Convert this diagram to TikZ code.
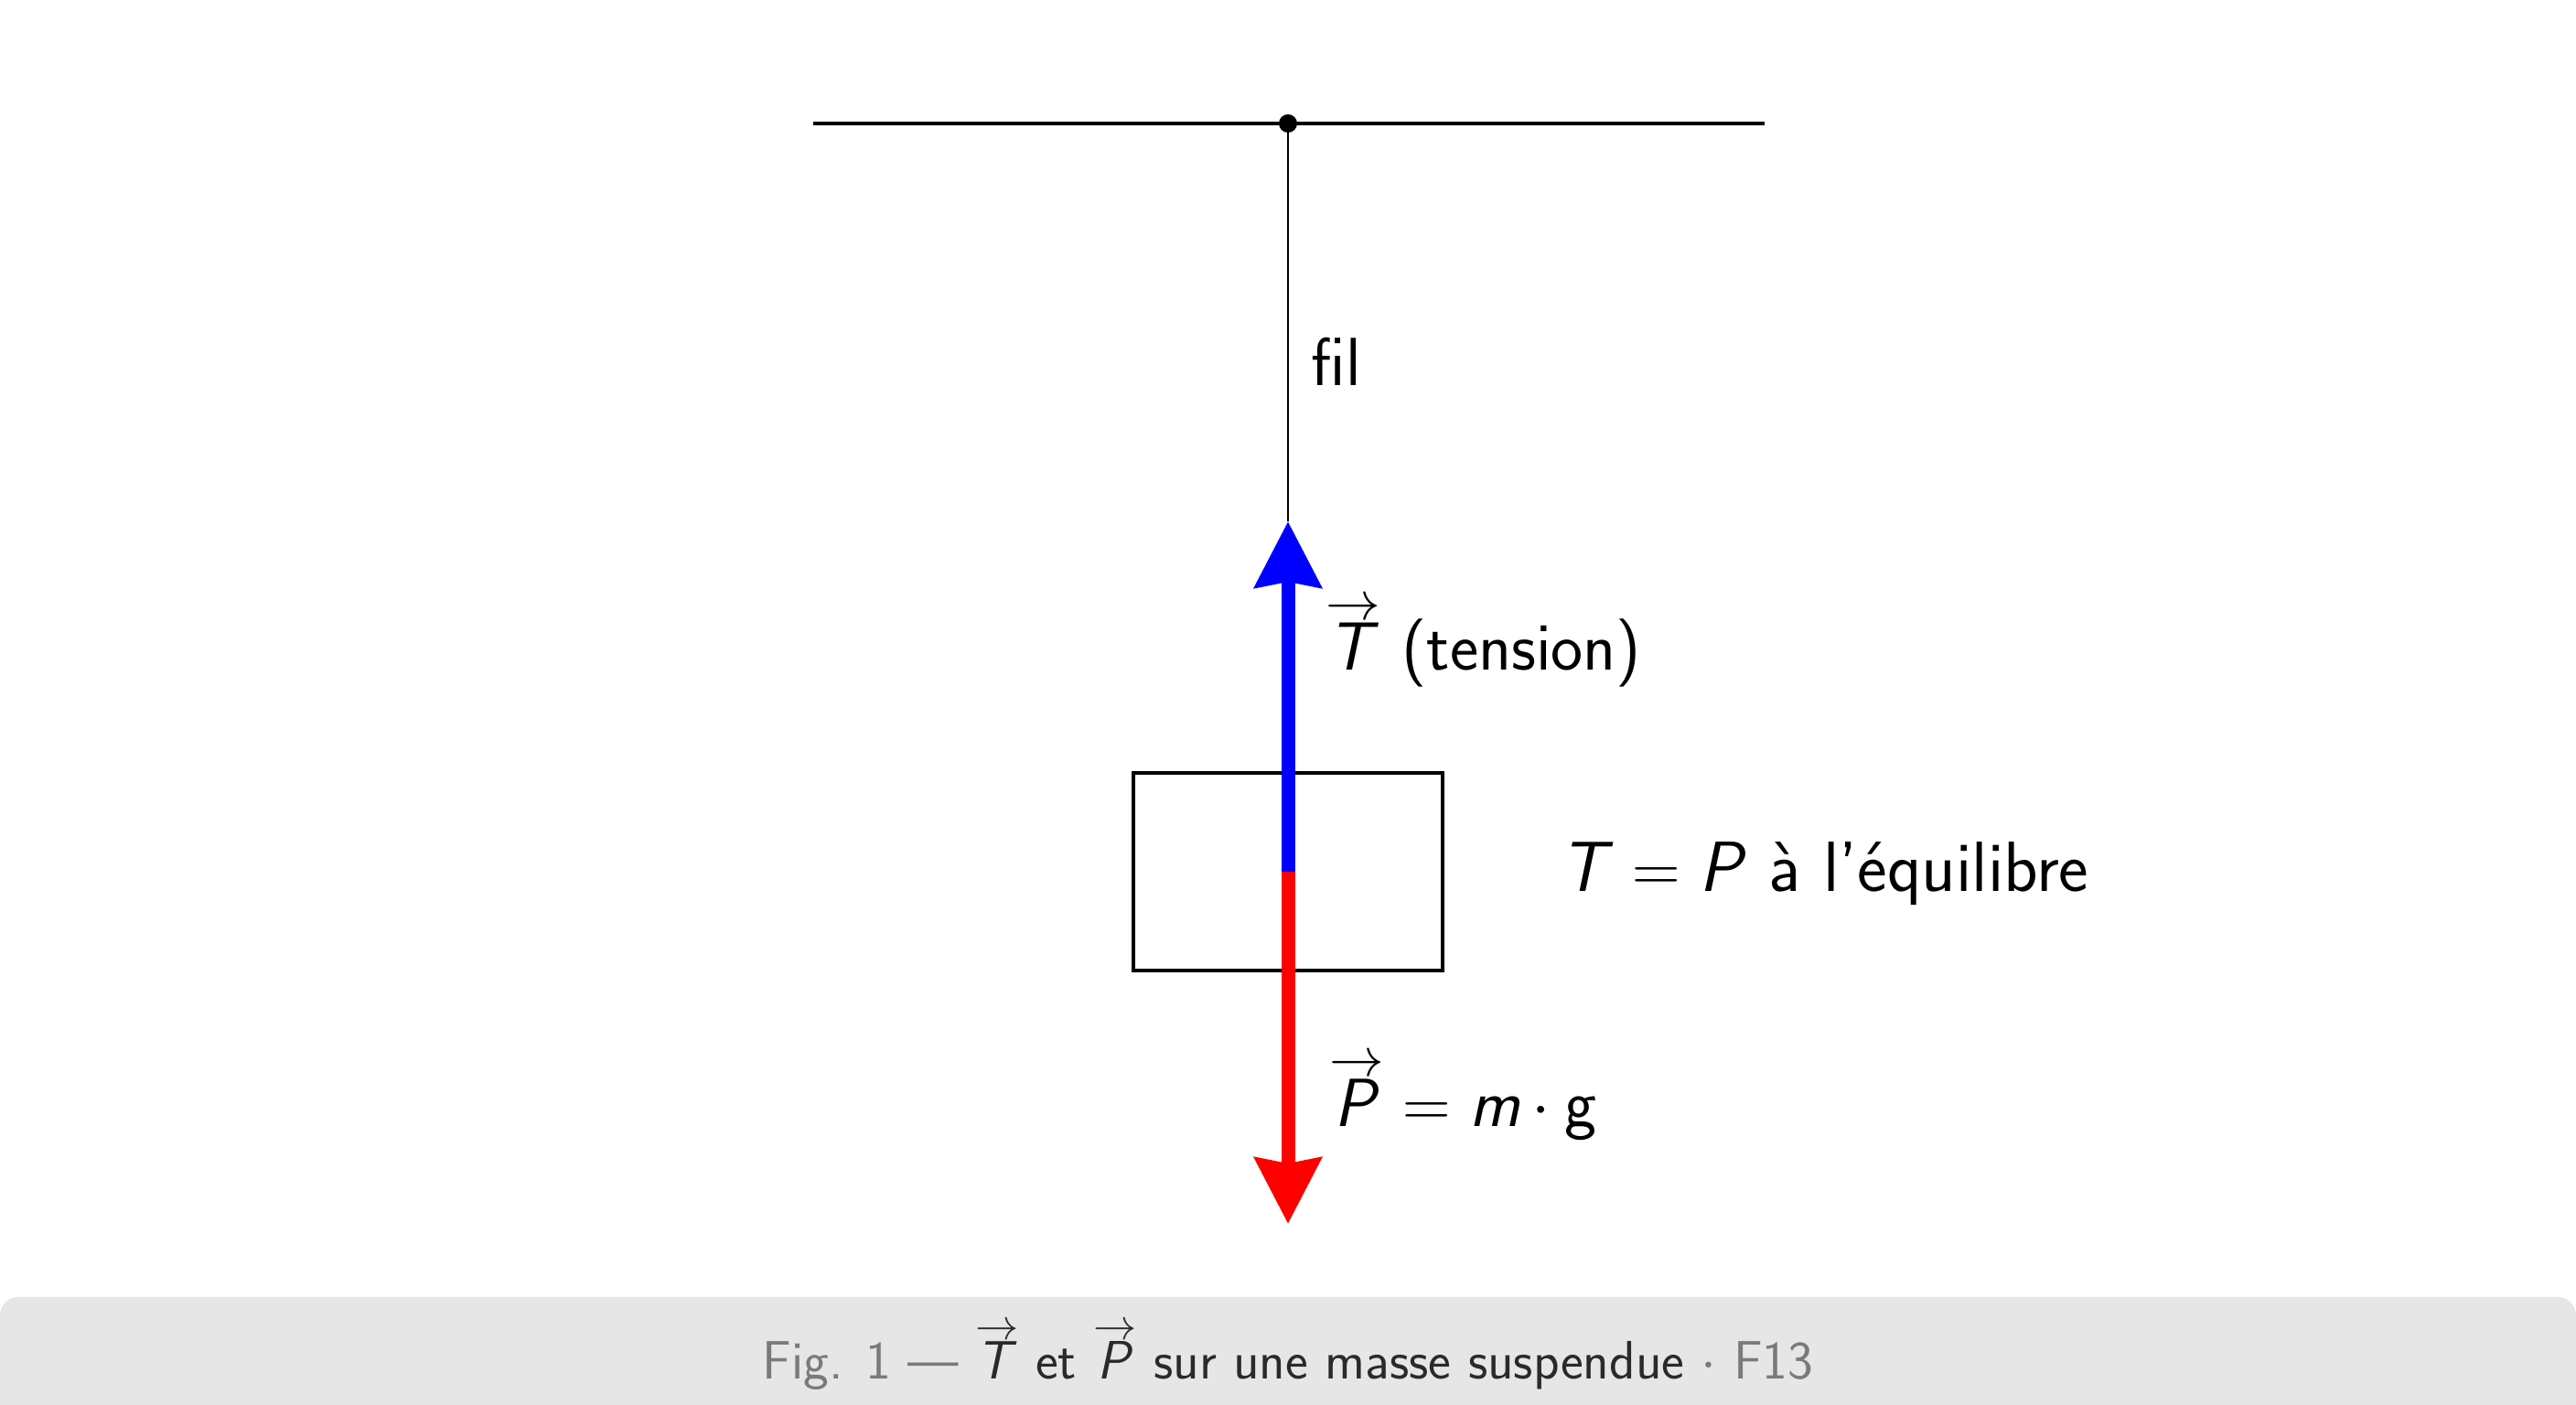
\documentclass[tikz,border=0pt]{standalone}
\usepackage{fontspec}
\usepackage{graphicx}
\renewcommand\familydefault{\sfdefault}
\usetikzlibrary{arrows.meta}
\definecolor{band}{HTML}{E6E6E6}
\definecolor{capgray}{HTML}{7A7A7A}
\definecolor{capdark}{HTML}{2A2A2A}
\newcommand\itl[1]{\mbox{\itshape #1\/}}
\newcommand\vecl[1]{\mbox{\ooalign{\hfil\raisebox{0.74em}{\resizebox{0.8em}{!}{$\rightarrow$}}\hfil\crcr\hfil\itl{#1}\hfil\crcr}}}
\newcommand\vecT{\vecl{T}}
\newcommand\vecP{\vecl{P}}
\tikzset{
  lbl/.style={inner sep=0pt, anchor=base west, font=\fontsize{21.2}{25}\selectfont},
  force/.style={line width=0.15cm, -{Stealth[length=0.72cm,width=0.72cm,inset=0.06cm]}},
  massbox/.style={draw, line width=1.1pt, minimum width=3.38cm, minimum height=2.16cm, inner sep=0pt},
}
\begin{document}
\begin{tikzpicture}
\useasboundingbox (0,0) rectangle (28.16,15.36);
\fill[white] (0,0) rectangle (28.16,15.36);
% caption band
\fill[band] (0,0) -- (0,0.98) arc[start angle=180,end angle=90,radius=0.2] -- (27.96,1.18) arc[start angle=90,end angle=0,radius=0.2] -- (28.16,0) -- cycle;
\node[inner sep=0pt, anchor=base, font=\fontsize{16.8}{20}\selectfont] (cap) at (14.08,0.28)
  {\textcolor{capgray}{Fig. 1 ---} \textcolor{capdark}{\vecT{} et \vecP{} sur une masse suspendue} \textcolor{capgray}{$\cdot$ F13}};
% ceiling
\coordinate (cl) at (8.89,14.01);
\coordinate (cr) at (19.29,14.01);
\draw[line width=1.2pt] (cl) -- (cr);
\node[circle, fill, inner sep=0pt, minimum size=0.2cm] (pivot) at (14.08,14.01) {};
% mass
\node[massbox] (mass) at (14.08,5.83) {};
\coordinate (ttip) at (14.08,9.66);
\coordinate (ptip) at (14.08,1.98);
% string
\draw[line width=0.6pt] (pivot.center) -- (ttip);
% forces
\draw[force, blue] (mass.center) -- (ttip);
\draw[force, red] (mass.center) -- (ptip);
% labels
\node[lbl] (fil) at (14.33,11.14) {fil};
\node[lbl] (tlab) at (14.49,8.03) {\vecT{} (tension)};
\node[lbl] (plab) at (14.53,3.04) {$\vecP = \itl{m}\mkern3mu\mathord{\cdot}\mkern4mu\mbox{g}$};
\node[lbl, font=\fontsize{22.1}{26}\selectfont] (eq) at (17.05,5.61) {$\itl{T} = \itl{P}$ à l’équilibre};
\end{tikzpicture}
\end{document}
